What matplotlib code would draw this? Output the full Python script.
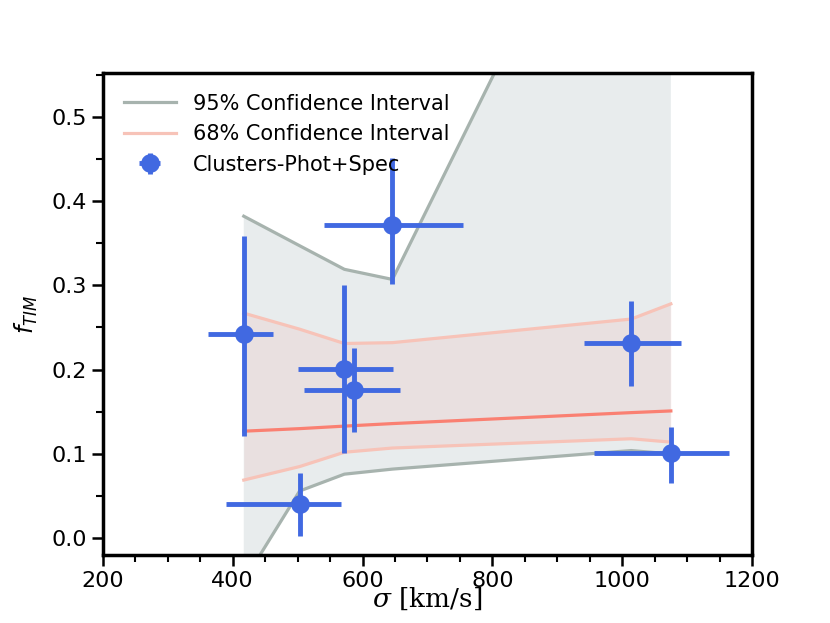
import matplotlib.pyplot as plt
import numpy as np
from matplotlib.ticker import MultipleLocator

sigma = np.array([417, 503, 572, 587, 646, 1014, 1075])
sigma_lo = np.array([55, 114, 72, 77, 105, 73, 118])
sigma_hi = np.array([45, 64, 75, 70, 109, 77, 89])
f_tim = np.array([0.242, 0.041, 0.201, 0.176, 0.371, 0.231, 0.101])
f_lo = np.array([0.121, 0.038, 0.100, 0.050, 0.070, 0.050, 0.036])
f_hi = np.array([0.117, 0.036, 0.099, 0.050, 0.080, 0.050, 0.031])

# confidence band grid
grid = np.array([417, 503, 572, 646, 1014, 1075])
median = np.array([0.127, 0.130, 0.133, 0.136, 0.149, 0.151])
lo68 = np.array([0.069, 0.085, 0.102, 0.107, 0.118, 0.114])
hi68 = np.array([0.267, 0.248, 0.231, 0.232, 0.260, 0.278])
lo95 = np.array([-0.051, 0.056, 0.076, 0.082, 0.104, 0.100])
hi95 = np.array([0.382, 0.347, 0.319, 0.307, 0.880, 1.000])

fig = plt.figure(figsize=(8.3, 6.23), dpi=100)
ax = fig.add_axes([0.124, 0.109, 0.782, 0.774])

ax.fill_between(grid, lo95, hi95, color='#dfe5e6', alpha=0.7, lw=0)
ax.plot(grid, hi95, color='#a7b3ae', lw=2.3, label='95% Confidence Interval')
ax.plot(grid, lo95, color='#a7b3ae', lw=2.3)
ax.fill_between(grid, lo68, hi68, color='salmon', alpha=0.1, lw=0)
ax.plot(grid, hi68, color='#f7c3b8', lw=2.3, label='68% Confidence Interval')
ax.plot(grid, lo68, color='#f7c3b8', lw=2.3)
ax.plot(grid, median, color='salmon', lw=2.3)

ax.errorbar(sigma, f_tim, xerr=[sigma_lo, sigma_hi], yerr=[f_lo, f_hi], fmt='o',
            color='royalblue', ms=12.5, elinewidth=3.5, capsize=0,
            label='Clusters-Phot+Spec', zorder=5)

ax.set_xlim(200, 1200)
ax.set_ylim(-0.02, 0.552)
ax.xaxis.set_major_locator(MultipleLocator(200))
ax.xaxis.set_minor_locator(MultipleLocator(50))
ax.yaxis.set_major_locator(MultipleLocator(0.1))
ax.yaxis.set_minor_locator(MultipleLocator(0.05))
ax.tick_params(which='major', length=8, width=1.8, labelsize=16)
ax.tick_params(which='minor', length=5, width=1.5)
for s in ax.spines.values():
    s.set_linewidth(2.5)

ax.set_xlabel(r'$\sigma$ [km/s]', fontsize=19, family='DejaVu Serif',
              math_fontfamily='dejavuserif', labelpad=-4)
ax.set_ylabel(r'$f_{TIM}$', fontsize=17, labelpad=8)

ax.legend(loc='upper left', frameon=False, fontsize=15, handlelength=2.5,
          borderaxespad=0.6)

fig.savefig('out.png', dpi=100)
